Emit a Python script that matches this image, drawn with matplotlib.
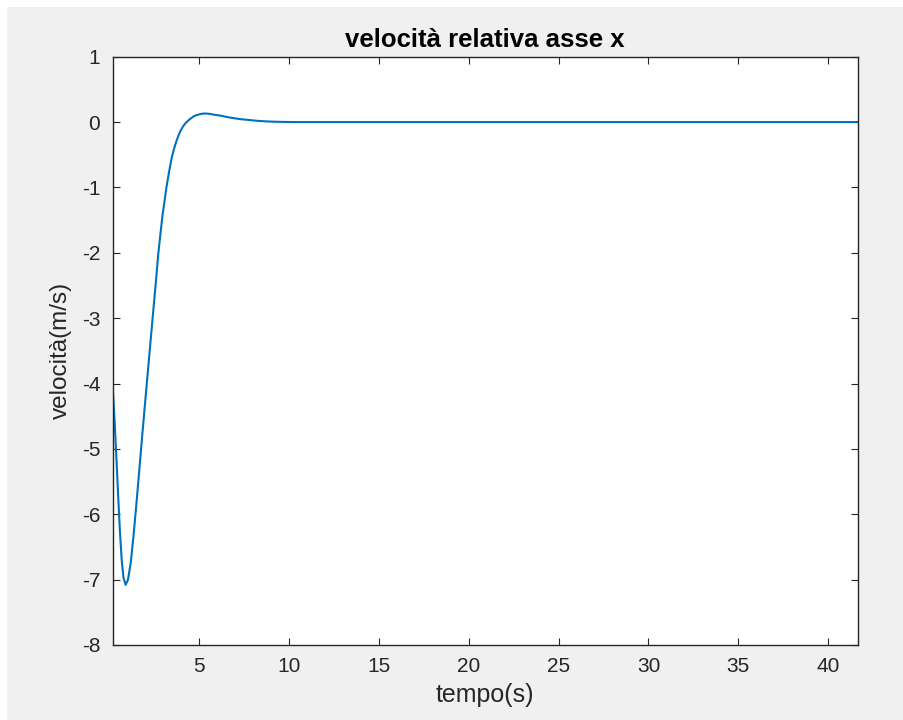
import matplotlib
matplotlib.use("Agg")
import matplotlib.pyplot as plt
from matplotlib.patches import Rectangle

# Data
t = [0.20, 0.30, 0.40, 0.50, 0.60, 0.70, 0.80, 0.92, 1.05, 1.20, 1.35, 1.50,
     1.65, 1.80, 2.00, 2.20, 2.42, 2.60, 2.74, 2.96, 3.20, 3.35, 3.48, 3.62,
     3.76, 3.88, 4.00, 4.13, 4.24, 4.35, 4.47, 4.59, 4.72, 4.85, 5.04, 5.24,
     5.42, 5.60, 5.89, 6.17, 6.50, 6.91, 7.30, 7.65, 8.20, 8.76, 9.50, 10.4,
     12.0, 20.0, 30.0, 41.64]
v = [-4.05, -4.55, -5.10, -5.70, -6.25, -6.70, -6.97, -7.08, -7.00, -6.75,
     -6.35, -5.90, -5.42, -4.93, -4.30, -3.68, -3.00, -2.45, -2.00, -1.45,
     -0.98, -0.74, -0.55, -0.40, -0.28, -0.19, -0.12, -0.06, -0.02, 0.01,
     0.04, 0.065, 0.09, 0.105, 0.12, 0.13, 0.13, 0.125, 0.11, 0.10, 0.08,
     0.06, 0.045, 0.035, 0.02, 0.01, 0.003, 0.0, 0.0, 0.0, 0.0, 0.0]

xticks = [5, 10, 15, 20, 25, 30, 35, 40]
yticks = [1, 0, -1, -2, -3, -4, -5, -6, -7, -8]
title = "velocità relativa asse x"
xlabel = "tempo(s)"
ylabel = "velocità(m/s)"

plt.rcParams['font.family'] = ['Liberation Sans', 'DejaVu Sans']
plt.rcParams['axes.unicode_minus'] = False
W, H = 904, 720
fig = plt.figure(figsize=(W / 100, H / 100), dpi=100, facecolor='white')
fig.patches.append(Rectangle((7 / W, 0), 1, 1 - 7 / H, transform=fig.transFigure,
                             facecolor='#f0f0f0', edgecolor='none', zorder=-10))

ax = fig.add_axes([112.7 / W, 1 - 645 / H, (857.7 - 112.7) / W, (645 - 56.7) / H])
ax.set_facecolor('white')
ax.plot(t, v, color='#0072BD', linewidth=1.5)
ax.set_xlim(0.2, 41.64)
ax.set_ylim(-8, 1)
ax.set_xticks(xticks)
ax.set_yticks(yticks)
ax.tick_params(direction='in', length=5, width=0.8, colors='#262626',
               labelsize=15, top=True, right=True, pad=9)
for s in ax.spines.values():
    s.set_color('#262626')
    s.set_linewidth(1.0)
ax.set_title(title, fontsize=18.5, fontweight='bold', color='black', pad=7)
ax.set_xlabel(xlabel, fontsize=18, color='#262626', labelpad=5)
ax.set_ylabel(ylabel, fontsize=17.5, color='#262626', labelpad=7)

fig.savefig("out.png", dpi=100, facecolor=fig.get_facecolor())
